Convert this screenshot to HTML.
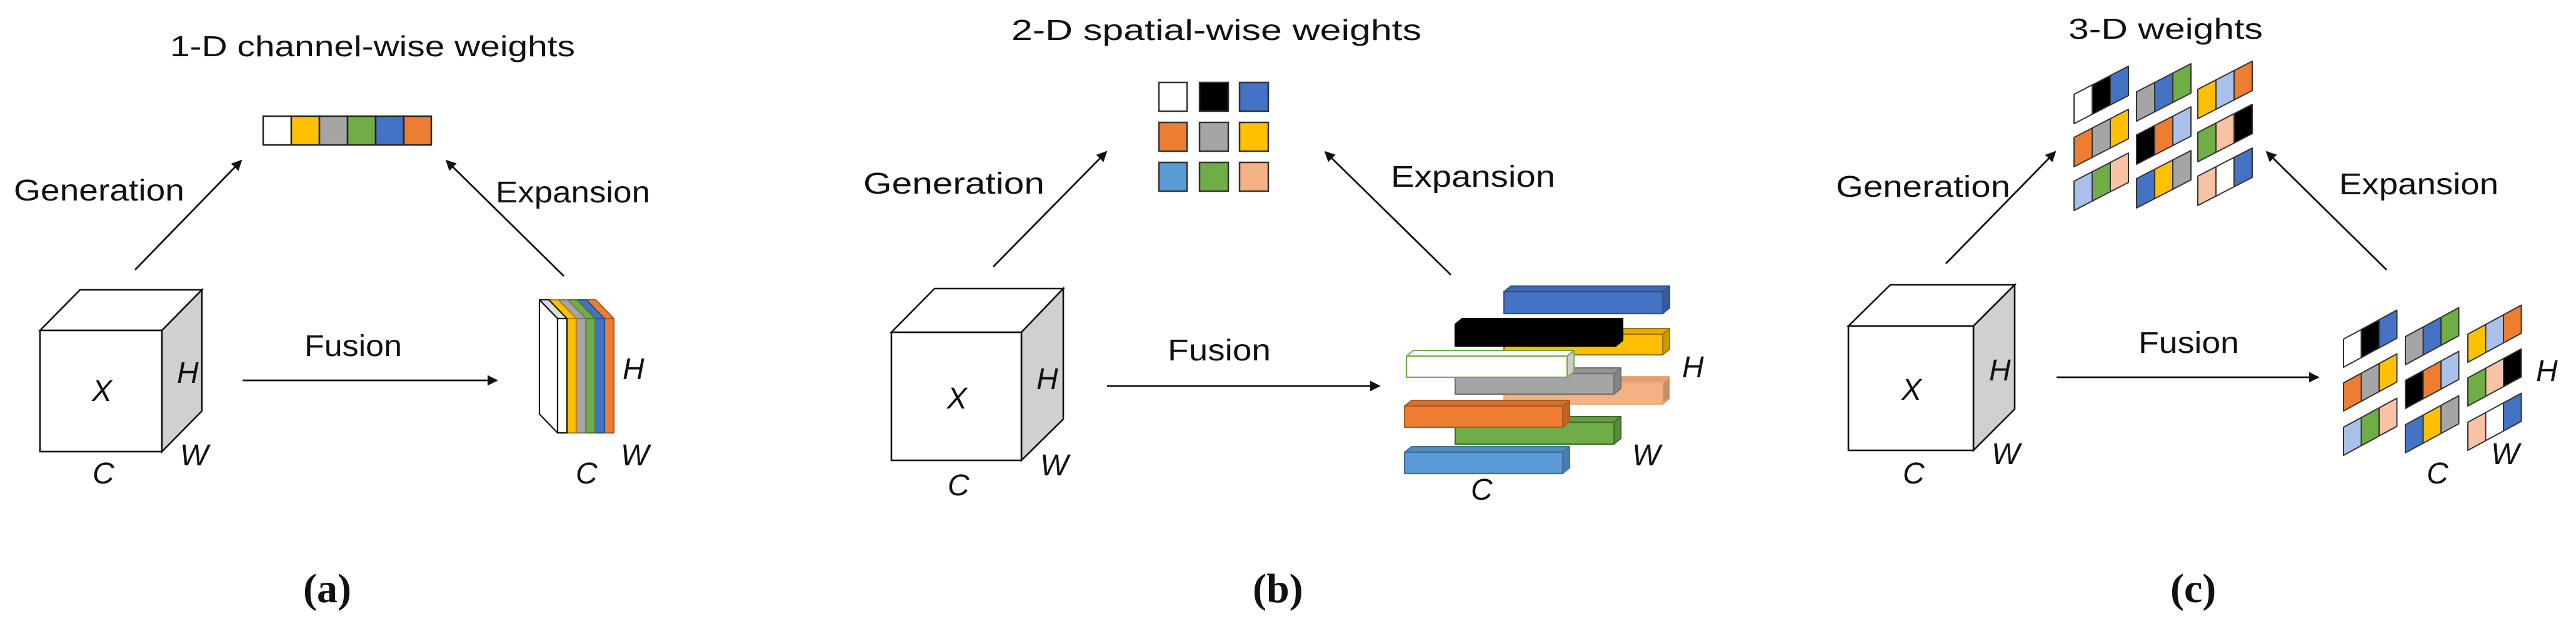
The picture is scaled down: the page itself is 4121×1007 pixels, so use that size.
<!DOCTYPE html>
<html><head><meta charset="utf-8">
<style>
html,body{margin:0;padding:0;background:#fff;}
svg{display:block;}
.t{font-family:"Liberation Sans",sans-serif;fill:#111;}
.i{font-family:"Liberation Sans",sans-serif;font-style:italic;fill:#111;font-size:48px;}
.s{font-family:"Liberation Serif",serif;font-weight:bold;fill:#111;font-size:66px;}
</style></head>
<body>
<svg id="svg" width="4121" height="1007" viewBox="0 0 4121 1007" xmlns="http://www.w3.org/2000/svg">
<defs>
<marker id="ah" viewBox="0 0 10 10" refX="9" refY="5" markerWidth="6" markerHeight="6" orient="auto" markerUnits="strokeWidth">
<path d="M0,0 L10,5 L0,10 z" fill="#111"/></marker>
</defs>
<g stroke="#111" stroke-width="2.8" fill="none" marker-end="url(#ah)">
<line x1="216" y1="432" x2="386" y2="257"/>
<line x1="902" y1="442" x2="714" y2="257"/>
<line x1="388" y1="609" x2="795" y2="609"/>
<line x1="1589" y1="427" x2="1770" y2="243"/>
<line x1="2321" y1="440" x2="2120" y2="243"/>
<line x1="1771" y1="618" x2="2207" y2="618"/>
<line x1="3113" y1="422" x2="3288" y2="243"/>
<line x1="3818" y1="432" x2="3626" y2="243"/>
<line x1="3290" y1="604" x2="3709" y2="604"/>
</g>

<text class="t" x="272" y="90" font-size="46" textLength="648" lengthAdjust="spacingAndGlyphs">1-D channel-wise weights</text>
<text class="t" x="1618" y="64" font-size="46" textLength="656" lengthAdjust="spacingAndGlyphs">2-D spatial-wise weights</text>
<text class="t" x="3309" y="62" font-size="46" textLength="311" lengthAdjust="spacingAndGlyphs">3-D weights</text>

<g class="t" font-size="48">
<text x="22" y="321" textLength="273" lengthAdjust="spacingAndGlyphs">Generation</text>
<text x="793" y="324" textLength="247" lengthAdjust="spacingAndGlyphs">Expansion</text>
<text x="487" y="570" textLength="156" lengthAdjust="spacingAndGlyphs">Fusion</text>
<text x="1381" y="310" textLength="290" lengthAdjust="spacingAndGlyphs">Generation</text>
<text x="2225" y="299" textLength="263" lengthAdjust="spacingAndGlyphs">Expansion</text>
<text x="1868" y="577" textLength="165" lengthAdjust="spacingAndGlyphs">Fusion</text>
<text x="2937" y="315" textLength="279" lengthAdjust="spacingAndGlyphs">Generation</text>
<text x="3742" y="311" textLength="255" lengthAdjust="spacingAndGlyphs">Expansion</text>
<text x="3421" y="565" textLength="161" lengthAdjust="spacingAndGlyphs">Fusion</text>
</g>

<g stroke="#111" stroke-width="2.6" stroke-linejoin="miter">
<polygon points="64,529 128,464 323,464 259,529" fill="#fff"/>
<polygon points="259,529 323,464 323,658 259,723" fill="#d0d0d0"/>
<rect x="64" y="529" width="195" height="194" fill="#fff"/>
<polygon points="1426,532 1495,462 1701,462 1634,532" fill="#fff"/>
<polygon points="1634,532 1701,462 1701,671 1634,737" fill="#d0d0d0"/>
<rect x="1426" y="532" width="208" height="205" fill="#fff"/>
<polygon points="2957,522 3024,456 3223,456 3157,522" fill="#fff"/>
<polygon points="3157,522 3223,456 3223,655 3157,721" fill="#d0d0d0"/>
<rect x="2957" y="522" width="200" height="199" fill="#fff"/>
</g>

<g class="i">
<text x="147" y="642">X</text><text x="283" y="613">H</text><text x="288" y="745">W</text><text x="148" y="774">C</text>
<text x="996" y="607">H</text><text x="993" y="745">W</text><text x="921" y="774">C</text>
<text x="1515" y="654">X</text><text x="1658" y="623">H</text><text x="1664" y="761">W</text><text x="1516" y="793">C</text>
<text x="2691" y="604">H</text><text x="2611" y="745">W</text><text x="2353" y="800">C</text>
<text x="3042" y="640">X</text><text x="3182" y="609">H</text><text x="3186" y="743">W</text><text x="3044" y="774">C</text>
<text x="4057" y="610">H</text><text x="3985" y="743">W</text><text x="3882" y="774">C</text>
</g>

<text class="s" x="485" y="964">(a)</text>
<text class="s" x="2004" y="964">(b)</text>
<text class="s" x="3472" y="964">(c)</text>

<g stroke="#222" stroke-width="2.5">
<rect x="421" y="186" width="45" height="46" fill="#fff"/>
<rect x="466" y="186" width="45" height="46" fill="#FFC000"/>
<rect x="511" y="186" width="45" height="46" fill="#A5A5A5"/>
<rect x="556" y="186" width="45" height="46" fill="#70AD47"/>
<rect x="601" y="186" width="45" height="46" fill="#4472C4"/>
<rect x="646" y="186" width="44" height="46" fill="#ED7D31"/>
</g>

<g stroke="#333" stroke-width="2.5">
<rect x="1854" y="132" width="45" height="46" fill="#fff"/>
<rect x="1919" y="132" width="46" height="46" fill="#000"/>
<rect x="1983" y="132" width="46" height="46" fill="#4472C4"/>
<rect x="1854" y="196" width="45" height="46" fill="#ED7D31"/>
<rect x="1919" y="196" width="46" height="46" fill="#A5A5A5"/>
<rect x="1983" y="196" width="46" height="46" fill="#FFC000"/>
<rect x="1854" y="260" width="45" height="46" fill="#5B9BD5"/>
<rect x="1919" y="260" width="46" height="46" fill="#70AD47"/>
<rect x="1983" y="260" width="46" height="46" fill="#F4B183"/>
</g>

<g id="stackA"></g>
<g id="barsB"></g>
<g id="grid3"></g>
</svg>
<script>
var NS="http://www.w3.org/2000/svg";
function poly(parent,pts,fill,stroke,sw){var p=document.createElementNS(NS,"polygon");p.setAttribute("points",pts.map(function(a){return a[0]+","+a[1]}).join(" "));p.setAttribute("fill",fill);p.setAttribute("stroke",stroke);p.setAttribute("stroke-width",sw||2);p.setAttribute("stroke-linejoin","round");parent.appendChild(p);}
var sa=document.getElementById("stackA");
var cols=["#ffffff","#FFC000","#A5A5A5","#70AD47","#4472C4","#ED7D31"];
var strokes=["#111","#B08600","#7a7a7a","#4e7d31","#2f528f","#ae5a21"];
for(var i=5;i>=0;i--){var x0=892+i*15;
 poly(sa,[[x0,510],[x0+15,510],[x0+15-29,480],[x0-29,480]],i==0?"#ddd":cols[i],strokes[i],2);
 poly(sa,[[x0-29,480],[x0,510],[x0,693],[x0-29,663]],"#fff",strokes[i],2.2);
 poly(sa,[[x0,510],[x0+15,510],[x0+15,693],[x0,693]],cols[i],strokes[i],2.2);}
var bb=document.getElementById("barsB");
function darker(c,f){var n=parseInt(c.slice(1),16);var r=(n>>16)&255,g=(n>>8)&255,b=n&255;return "rgb("+Math.round(r*f)+","+Math.round(g*f)+","+Math.round(b*f)+")";}
function box(x1,x2,y1,y2,fill,stroke){var dx=11,dy=9;
 poly(bb,[[x1,y1],[x1+dx,y1-dy],[x2+dx,y1-dy],[x2,y1]],fill=="#ffffff"?"#fff":darker(fill,0.9),stroke,2);
 poly(bb,[[x2,y1],[x2+dx,y1-dy],[x2+dx,y2-dy],[x2,y2]],fill=="#ffffff"?"#ccc":darker(fill,0.8),stroke,2);
 poly(bb,[[x1,y1],[x2,y1],[x2,y2],[x1,y2]],fill,stroke,2.2);}
box(2406,2660,467,502,"#4472C4","#2f528f");
box(2406,2660,535,568,"#FFC000","#9c7500");
box(2328,2585,519,554,"#000000","#000");
box(2406,2660,612,647,"#F4B183","#f0a878");
box(2328,2582,598,631,"#A5A5A5","#707070");
box(2250,2507,570,604,"#ffffff","#70AD47");
box(2328,2582,676,711,"#70AD47","#3f6e27");
box(2247,2500,650,684,"#ED7D31","#ae5a21");
box(2247,2500,724,758,"#5B9BD5","#41719c");
var g3=document.getElementById("grid3");
var W="#ffffff",K="#000000",B="#4472C4",G="#A5A5A5",N="#70AD47",Y="#FFC000",L="#A9C0EA",O="#ED7D31",P="#F8C3A4";
var pat=[[[W,K,B],[G,B,N],[Y,L,O]],[[O,G,Y],[K,O,L],[N,P,K]],[[L,N,P],[B,Y,G],[P,W,B]]];
function groups(xs,ys,cw,rise,h){for(var r=0;r<3;r++)for(var c=0;c<3;c++){var gx=xs[c],gy=ys[r]-c*4;
 for(var j=0;j<3;j++){var L0=gx+j*cw,Bt=gy-j*rise;
  poly(g3,[[L0,Bt],[L0+cw,Bt-rise],[L0+cw,Bt-rise-h],[L0,Bt-h]],pat[r][c][j],"#333",2);}}}
groups([3318,3418,3516],[198,267,337],29,15,47);
groups([3749,3848,3948],[588,658,729],28.5,15.5,45);
</script>
</body></html>
